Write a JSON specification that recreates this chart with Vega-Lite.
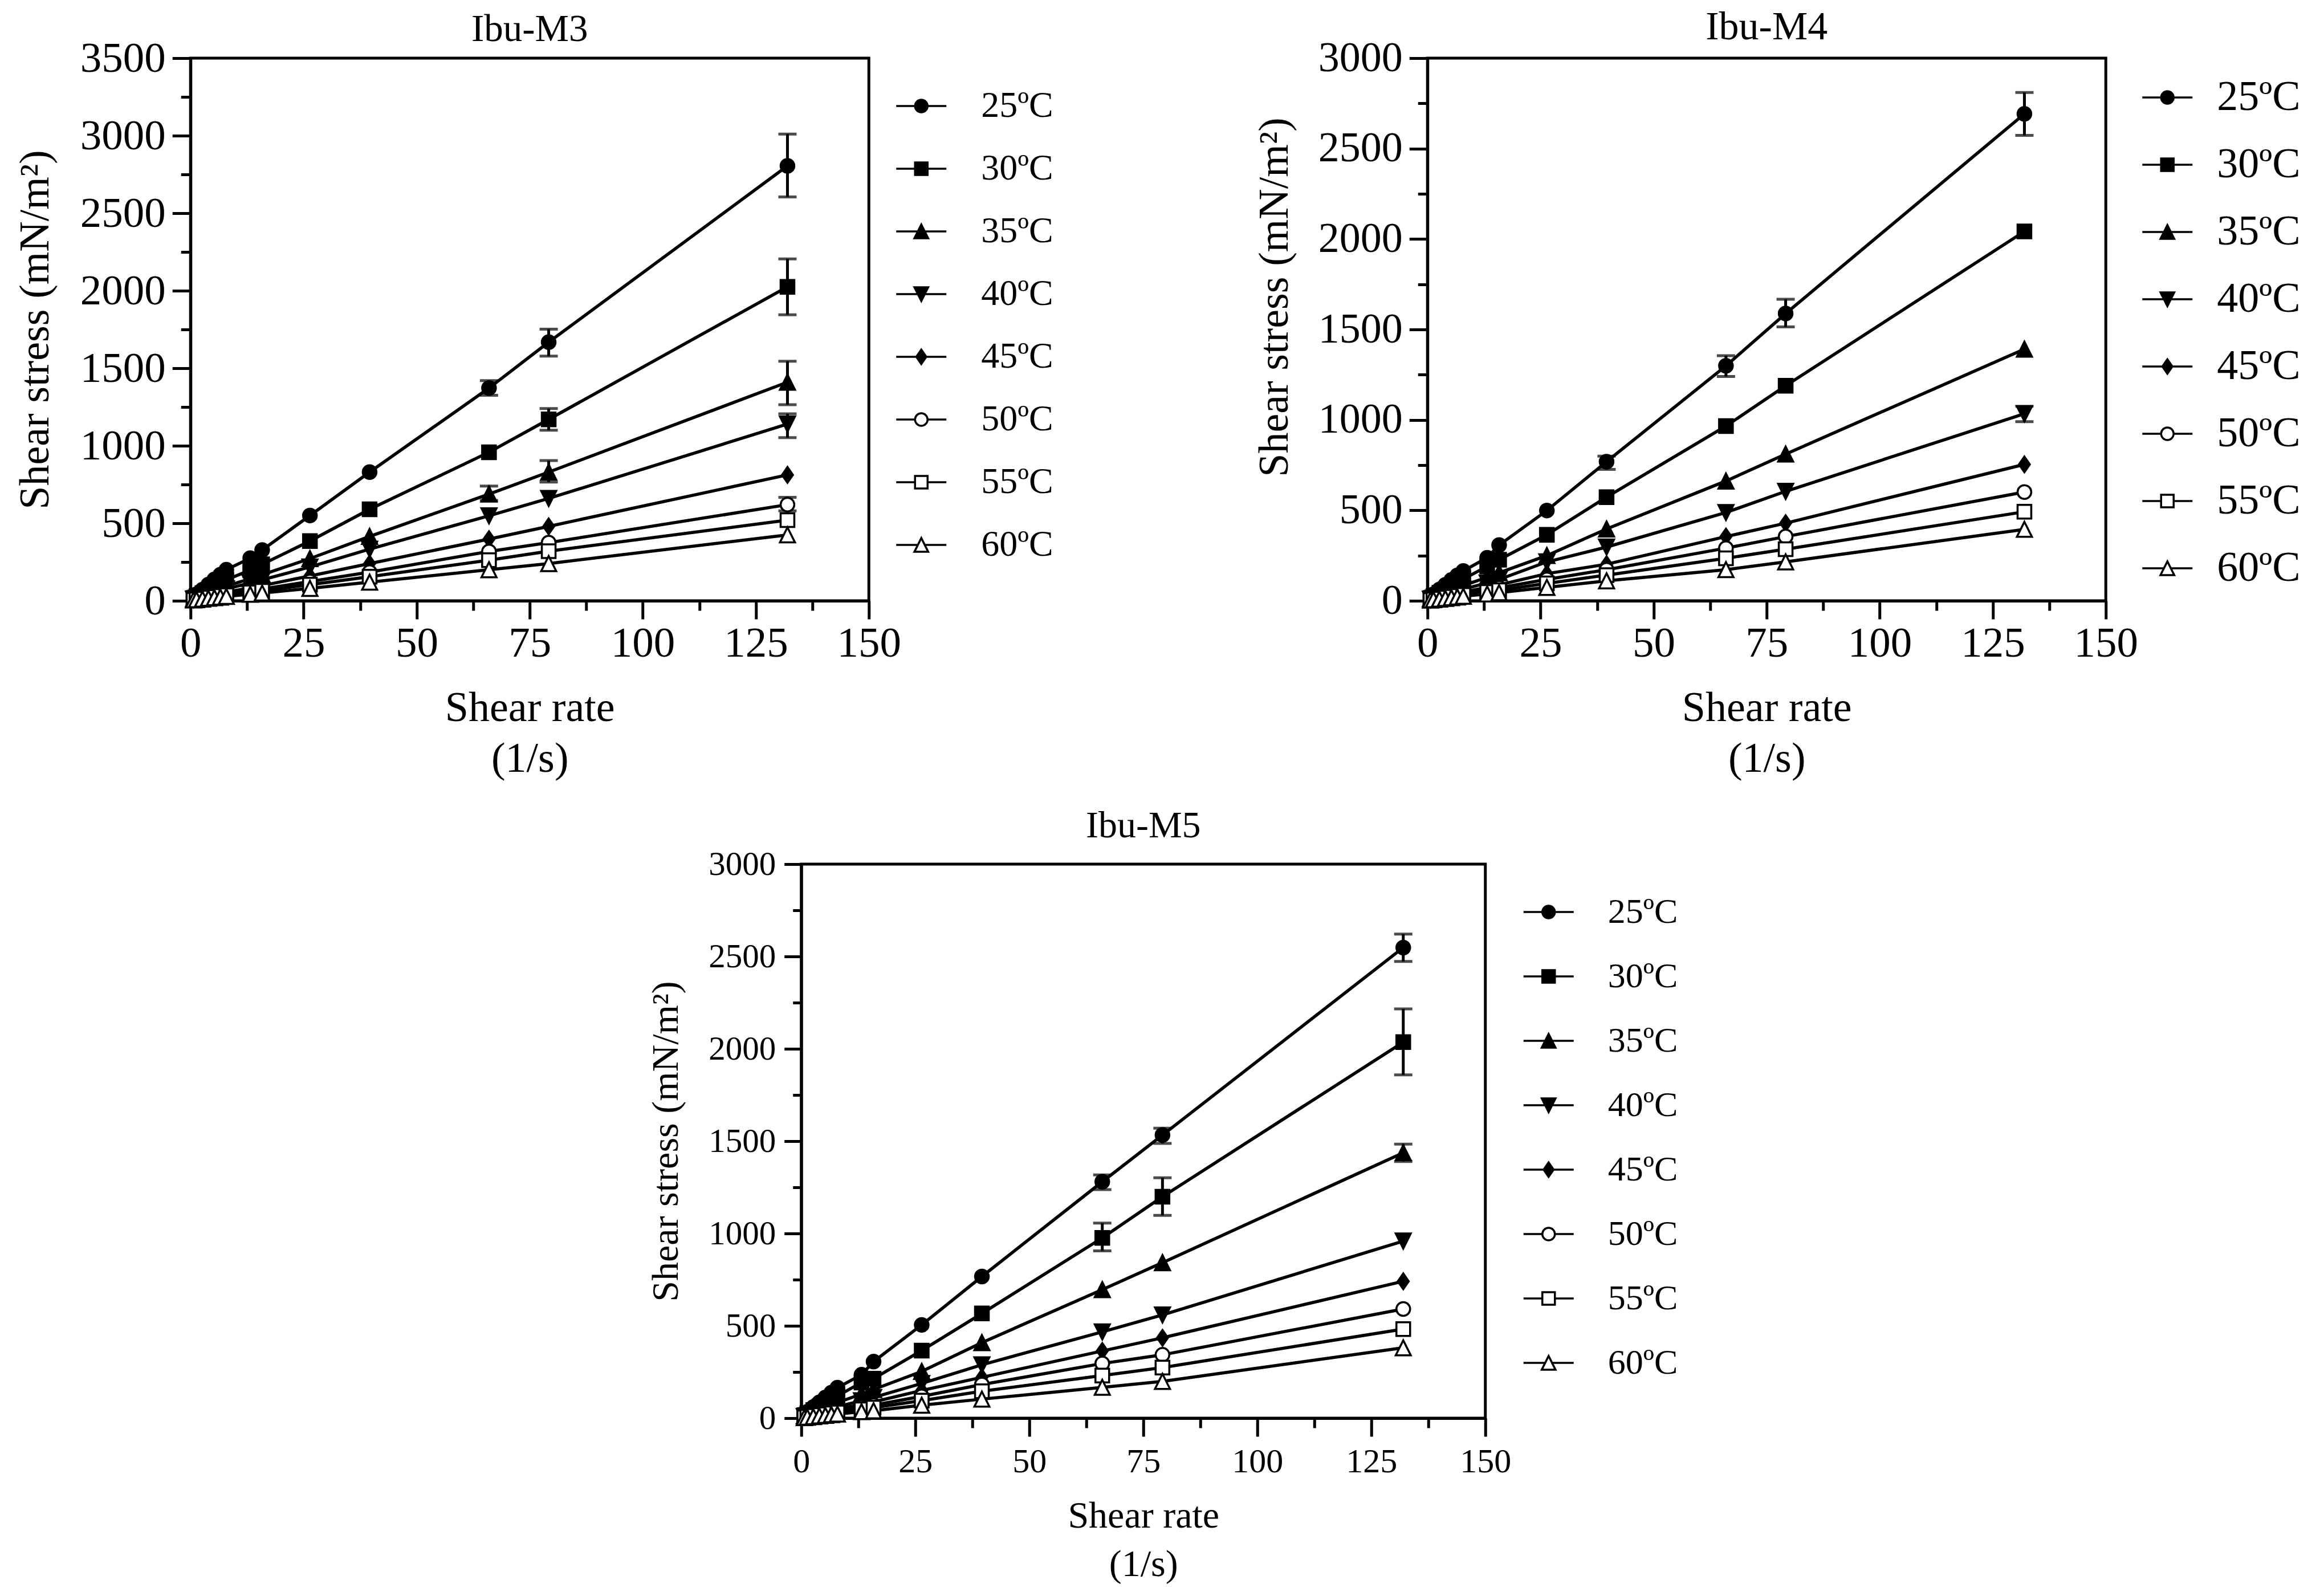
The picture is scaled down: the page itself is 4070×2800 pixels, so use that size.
{
  "$schema": "https://vega.github.io/schema/vega-lite/v6.json",
  "background": "white",
  "padding": {"left": 22, "top": 10, "right": 5, "bottom": 5},
  "center": true,
  "spacing": 42,
  "resolve": {"scale": {"shape": "independent", "fill": "independent"}, "legend": {"shape": "independent", "fill": "independent"}},
  "config": {
    "font": "Liberation Serif",
    "view": {"stroke": "black", "strokeWidth": 5},
    "axis": {
      "domainColor": "black", "domainWidth": 5, "tickColor": "black", "tickWidth": 5,
      "labelColor": "black", "titleColor": "black", "grid": false,
      "labelFlush": false, "labelOverlap": false, "labelBound": false,
      "titleFontWeight": "normal", "format": "d"
    },
    "legend": {"labelColor": "black", "labelLimit": 400, "symbolStrokeColor": "black", "symbolFillColor": "black", "symbolOpacity": 1, "symbolStrokeWidth": 3.5, "symbolSize": 484, "symbolOffset": 0, "title": null, "orient": "right"},
    "title": {"fontWeight": "normal", "color": "black", "anchor": "middle", "frame": "group"}
  },
  "datasets": {
    "m3": [
      {"t":"25ºC","x":0.66,"y":25},{"t":"25ºC","x":1.32,"y":42},{"t":"25ºC","x":2.64,"y":72},{"t":"25ºC","x":3.96,"y":105},{"t":"25ºC","x":5.28,"y":138},{"t":"25ºC","x":6.6,"y":168},{"t":"25ºC","x":7.92,"y":200},{"t":"25ºC","x":13.2,"y":275},{"t":"25ºC","x":15.84,"y":327},{"t":"25ºC","x":26.4,"y":550},{"t":"25ºC","x":39.6,"y":830},{"t":"25ºC","x":66,"y":1372,"lo":1325,"hi":1420},{"t":"25ºC","x":79.2,"y":1668,"lo":1578,"hi":1752},{"t":"25ºC","x":132,"y":2805,"lo":2605,"hi":3010},
      {"t":"30ºC","x":0.66,"y":18},{"t":"30ºC","x":1.32,"y":30},{"t":"30ºC","x":2.64,"y":50},{"t":"30ºC","x":3.96,"y":72},{"t":"30ºC","x":5.28,"y":93},{"t":"30ºC","x":6.6,"y":113},{"t":"30ºC","x":7.92,"y":135},{"t":"30ºC","x":13.2,"y":198},{"t":"30ºC","x":15.84,"y":235},{"t":"30ºC","x":26.4,"y":385},{"t":"30ºC","x":39.6,"y":590},{"t":"30ºC","x":66,"y":958},{"t":"30ºC","x":79.2,"y":1170,"lo":1100,"hi":1240},{"t":"30ºC","x":132,"y":2025,"lo":1845,"hi":2205},
      {"t":"35ºC","x":0.66,"y":13},{"t":"35ºC","x":1.32,"y":22},{"t":"35ºC","x":2.64,"y":37},{"t":"35ºC","x":3.96,"y":52},{"t":"35ºC","x":5.28,"y":66},{"t":"35ºC","x":6.6,"y":80},{"t":"35ºC","x":7.92,"y":95},{"t":"35ºC","x":13.2,"y":142},{"t":"35ºC","x":15.84,"y":168},{"t":"35ºC","x":26.4,"y":272},{"t":"35ºC","x":39.6,"y":415},{"t":"35ºC","x":66,"y":688,"lo":647,"hi":740},{"t":"35ºC","x":79.2,"y":830,"lo":766,"hi":904},{"t":"35ºC","x":132,"y":1410,"lo":1265,"hi":1545},
      {"t":"40ºC","x":0.66,"y":11},{"t":"40ºC","x":1.32,"y":18},{"t":"40ºC","x":2.64,"y":30},{"t":"40ºC","x":3.96,"y":42},{"t":"40ºC","x":5.28,"y":54},{"t":"40ºC","x":6.6,"y":65},{"t":"40ºC","x":7.92,"y":77},{"t":"40ºC","x":13.2,"y":115},{"t":"40ºC","x":15.84,"y":135},{"t":"40ºC","x":26.4,"y":218},{"t":"40ºC","x":39.6,"y":333},{"t":"40ºC","x":66,"y":548},{"t":"40ºC","x":79.2,"y":660},{"t":"40ºC","x":132,"y":1140,"lo":1052,"hi":1206},
      {"t":"45ºC","x":0.66,"y":9},{"t":"45ºC","x":1.32,"y":14},{"t":"45ºC","x":2.64,"y":22},{"t":"45ºC","x":3.96,"y":31},{"t":"45ºC","x":5.28,"y":39},{"t":"45ºC","x":6.6,"y":47},{"t":"45ºC","x":7.92,"y":56},{"t":"45ºC","x":13.2,"y":83},{"t":"45ºC","x":15.84,"y":98},{"t":"45ºC","x":26.4,"y":160},{"t":"45ºC","x":39.6,"y":240},{"t":"45ºC","x":66,"y":398},{"t":"45ºC","x":79.2,"y":480},{"t":"45ºC","x":132,"y":812},
      {"t":"50ºC","x":0.66,"y":7},{"t":"50ºC","x":1.32,"y":11},{"t":"50ºC","x":2.64,"y":17},{"t":"50ºC","x":3.96,"y":24},{"t":"50ºC","x":5.28,"y":30},{"t":"50ºC","x":6.6,"y":37},{"t":"50ºC","x":7.92,"y":43},{"t":"50ºC","x":13.2,"y":64},{"t":"50ºC","x":15.84,"y":76},{"t":"50ºC","x":26.4,"y":124},{"t":"50ºC","x":39.6,"y":185},{"t":"50ºC","x":66,"y":318},{"t":"50ºC","x":79.2,"y":375},{"t":"50ºC","x":132,"y":620,"lo":580,"hi":667},
      {"t":"55ºC","x":0.66,"y":6},{"t":"55ºC","x":1.32,"y":9},{"t":"55ºC","x":2.64,"y":14},{"t":"55ºC","x":3.96,"y":20},{"t":"55ºC","x":5.28,"y":25},{"t":"55ºC","x":6.6,"y":31},{"t":"55ºC","x":7.92,"y":36},{"t":"55ºC","x":13.2,"y":54},{"t":"55ºC","x":15.84,"y":64},{"t":"55ºC","x":26.4,"y":104},{"t":"55ºC","x":39.6,"y":155},{"t":"55ºC","x":66,"y":262},{"t":"55ºC","x":79.2,"y":320},{"t":"55ºC","x":132,"y":520},
      {"t":"60ºC","x":0.66,"y":5},{"t":"60ºC","x":1.32,"y":7},{"t":"60ºC","x":2.64,"y":11},{"t":"60ºC","x":3.96,"y":16},{"t":"60ºC","x":5.28,"y":20},{"t":"60ºC","x":6.6,"y":24},{"t":"60ºC","x":7.92,"y":28},{"t":"60ºC","x":13.2,"y":42},{"t":"60ºC","x":15.84,"y":50},{"t":"60ºC","x":26.4,"y":80},{"t":"60ºC","x":39.6,"y":120},{"t":"60ºC","x":66,"y":200},{"t":"60ºC","x":79.2,"y":240},{"t":"60ºC","x":132,"y":425}
    ],
    "m4": [
      {"t":"25ºC","x":0.66,"y":22},{"t":"25ºC","x":1.32,"y":36},{"t":"25ºC","x":2.64,"y":62},{"t":"25ºC","x":3.96,"y":88},{"t":"25ºC","x":5.28,"y":115},{"t":"25ºC","x":6.6,"y":140},{"t":"25ºC","x":7.92,"y":165},{"t":"25ºC","x":13.2,"y":238},{"t":"25ºC","x":15.84,"y":308},{"t":"25ºC","x":26.4,"y":499},{"t":"25ºC","x":39.6,"y":769,"lo":726,"hi":800},{"t":"25ºC","x":66,"y":1299,"lo":1240,"hi":1355},{"t":"25ºC","x":79.2,"y":1588,"lo":1514,"hi":1667},{"t":"25ºC","x":132,"y":2692,"lo":2573,"hi":2810},
      {"t":"30ºC","x":0.66,"y":16},{"t":"30ºC","x":1.32,"y":27},{"t":"30ºC","x":2.64,"y":44},{"t":"30ºC","x":3.96,"y":63},{"t":"30ºC","x":5.28,"y":82},{"t":"30ºC","x":6.6,"y":100},{"t":"30ºC","x":7.92,"y":120},{"t":"30ºC","x":13.2,"y":190},{"t":"30ºC","x":15.84,"y":227},{"t":"30ºC","x":26.4,"y":365},{"t":"30ºC","x":39.6,"y":573},{"t":"30ºC","x":66,"y":966},{"t":"30ºC","x":79.2,"y":1189},{"t":"30ºC","x":132,"y":2042},
      {"t":"35ºC","x":0.66,"y":12},{"t":"35ºC","x":1.32,"y":19},{"t":"35ºC","x":2.64,"y":32},{"t":"35ºC","x":3.96,"y":45},{"t":"35ºC","x":5.28,"y":58},{"t":"35ºC","x":6.6,"y":71},{"t":"35ºC","x":7.92,"y":84},{"t":"35ºC","x":13.2,"y":130},{"t":"35ºC","x":15.84,"y":155},{"t":"35ºC","x":26.4,"y":250},{"t":"35ºC","x":39.6,"y":397},{"t":"35ºC","x":66,"y":662},{"t":"35ºC","x":79.2,"y":811},{"t":"35ºC","x":132,"y":1391},
      {"t":"40ºC","x":0.66,"y":9},{"t":"40ºC","x":1.32,"y":15},{"t":"40ºC","x":2.64,"y":25},{"t":"40ºC","x":3.96,"y":35},{"t":"40ºC","x":5.28,"y":44},{"t":"40ºC","x":6.6,"y":54},{"t":"40ºC","x":7.92,"y":64},{"t":"40ºC","x":13.2,"y":99},{"t":"40ºC","x":15.84,"y":118},{"t":"40ºC","x":26.4,"y":215},{"t":"40ºC","x":39.6,"y":297},{"t":"40ºC","x":66,"y":488},{"t":"40ºC","x":79.2,"y":605},{"t":"40ºC","x":132,"y":1034,"lo":990,"hi":1075},
      {"t":"45ºC","x":0.66,"y":7},{"t":"45ºC","x":1.32,"y":11},{"t":"45ºC","x":2.64,"y":19},{"t":"45ºC","x":3.96,"y":26},{"t":"45ºC","x":5.28,"y":33},{"t":"45ºC","x":6.6,"y":40},{"t":"45ºC","x":7.92,"y":48},{"t":"45ºC","x":13.2,"y":74},{"t":"45ºC","x":15.84,"y":88},{"t":"45ºC","x":26.4,"y":150},{"t":"45ºC","x":39.6,"y":202},{"t":"45ºC","x":66,"y":355},{"t":"45ºC","x":79.2,"y":429},{"t":"45ºC","x":132,"y":754},
      {"t":"50ºC","x":0.66,"y":6},{"t":"50ºC","x":1.32,"y":9},{"t":"50ºC","x":2.64,"y":15},{"t":"50ºC","x":3.96,"y":21},{"t":"50ºC","x":5.28,"y":27},{"t":"50ºC","x":6.6,"y":33},{"t":"50ºC","x":7.92,"y":39},{"t":"50ºC","x":13.2,"y":60},{"t":"50ºC","x":15.84,"y":72},{"t":"50ºC","x":26.4,"y":118},{"t":"50ºC","x":39.6,"y":172},{"t":"50ºC","x":66,"y":291},{"t":"50ºC","x":79.2,"y":355},{"t":"50ºC","x":132,"y":601},
      {"t":"55ºC","x":0.66,"y":5},{"t":"55ºC","x":1.32,"y":8},{"t":"55ºC","x":2.64,"y":12},{"t":"55ºC","x":3.96,"y":17},{"t":"55ºC","x":5.28,"y":22},{"t":"55ºC","x":6.6,"y":27},{"t":"55ºC","x":7.92,"y":32},{"t":"55ºC","x":13.2,"y":49},{"t":"55ºC","x":15.84,"y":58},{"t":"55ºC","x":26.4,"y":96},{"t":"55ºC","x":39.6,"y":142},{"t":"55ºC","x":66,"y":235},{"t":"55ºC","x":79.2,"y":285},{"t":"55ºC","x":132,"y":492},
      {"t":"60ºC","x":0.66,"y":4},{"t":"60ºC","x":1.32,"y":6},{"t":"60ºC","x":2.64,"y":9},{"t":"60ºC","x":3.96,"y":13},{"t":"60ºC","x":5.28,"y":17},{"t":"60ºC","x":6.6,"y":21},{"t":"60ºC","x":7.92,"y":25},{"t":"60ºC","x":13.2,"y":38},{"t":"60ºC","x":15.84,"y":45},{"t":"60ºC","x":26.4,"y":74},{"t":"60ºC","x":39.6,"y":110},{"t":"60ºC","x":66,"y":172},{"t":"60ºC","x":79.2,"y":215},{"t":"60ºC","x":132,"y":395}
    ],
    "m5": [
      {"t":"25ºC","x":0.66,"y":21},{"t":"25ºC","x":1.32,"y":35},{"t":"25ºC","x":2.64,"y":60},{"t":"25ºC","x":3.96,"y":86},{"t":"25ºC","x":5.28,"y":112},{"t":"25ºC","x":6.6,"y":138},{"t":"25ºC","x":7.92,"y":165},{"t":"25ºC","x":13.2,"y":235},{"t":"25ºC","x":15.84,"y":306},{"t":"25ºC","x":26.4,"y":505},{"t":"25ºC","x":39.6,"y":767},{"t":"25ºC","x":66,"y":1280,"lo":1238,"hi":1317},{"t":"25ºC","x":79.2,"y":1533,"lo":1488,"hi":1570},{"t":"25ºC","x":132,"y":2548,"lo":2473,"hi":2621},
      {"t":"30ºC","x":0.66,"y":16},{"t":"30ºC","x":1.32,"y":27},{"t":"30ºC","x":2.64,"y":44},{"t":"30ºC","x":3.96,"y":63},{"t":"30ºC","x":5.28,"y":82},{"t":"30ºC","x":6.6,"y":100},{"t":"30ºC","x":7.92,"y":120},{"t":"30ºC","x":13.2,"y":193},{"t":"30ºC","x":15.84,"y":214},{"t":"30ºC","x":26.4,"y":366},{"t":"30ºC","x":39.6,"y":567},{"t":"30ºC","x":66,"y":976,"lo":906,"hi":1056},{"t":"30ºC","x":79.2,"y":1199,"lo":1098,"hi":1302},{"t":"30ºC","x":132,"y":2036,"lo":1859,"hi":2216},
      {"t":"35ºC","x":0.66,"y":12},{"t":"35ºC","x":1.32,"y":19},{"t":"35ºC","x":2.64,"y":32},{"t":"35ºC","x":3.96,"y":45},{"t":"35ºC","x":5.28,"y":58},{"t":"35ºC","x":6.6,"y":72},{"t":"35ºC","x":7.92,"y":85},{"t":"35ºC","x":13.2,"y":130},{"t":"35ºC","x":15.84,"y":155},{"t":"35ºC","x":26.4,"y":253},{"t":"35ºC","x":39.6,"y":409},{"t":"35ºC","x":66,"y":696},{"t":"35ºC","x":79.2,"y":842},{"t":"35ºC","x":132,"y":1437,"lo":1390,"hi":1484},
      {"t":"40ºC","x":0.66,"y":9},{"t":"40ºC","x":1.32,"y":14},{"t":"40ºC","x":2.64,"y":23},{"t":"40ºC","x":3.96,"y":33},{"t":"40ºC","x":5.28,"y":42},{"t":"40ºC","x":6.6,"y":52},{"t":"40ºC","x":7.92,"y":62},{"t":"40ºC","x":13.2,"y":94},{"t":"40ºC","x":15.84,"y":112},{"t":"40ºC","x":26.4,"y":188},{"t":"40ºC","x":39.6,"y":289},{"t":"40ºC","x":66,"y":467},{"t":"40ºC","x":79.2,"y":559},{"t":"40ºC","x":132,"y":959},
      {"t":"45ºC","x":0.66,"y":7},{"t":"45ºC","x":1.32,"y":11},{"t":"45ºC","x":2.64,"y":19},{"t":"45ºC","x":3.96,"y":26},{"t":"45ºC","x":5.28,"y":33},{"t":"45ºC","x":6.6,"y":40},{"t":"45ºC","x":7.92,"y":48},{"t":"45ºC","x":13.2,"y":74},{"t":"45ºC","x":15.84,"y":88},{"t":"45ºC","x":26.4,"y":150},{"t":"45ºC","x":39.6,"y":221},{"t":"45ºC","x":66,"y":364},{"t":"45ºC","x":79.2,"y":435},{"t":"45ºC","x":132,"y":741},
      {"t":"50ºC","x":0.66,"y":6},{"t":"50ºC","x":1.32,"y":9},{"t":"50ºC","x":2.64,"y":15},{"t":"50ºC","x":3.96,"y":21},{"t":"50ºC","x":5.28,"y":27},{"t":"50ºC","x":6.6,"y":33},{"t":"50ºC","x":7.92,"y":39},{"t":"50ºC","x":13.2,"y":59},{"t":"50ºC","x":15.84,"y":70},{"t":"50ºC","x":26.4,"y":118},{"t":"50ºC","x":39.6,"y":182},{"t":"50ºC","x":66,"y":296},{"t":"50ºC","x":79.2,"y":343},{"t":"50ºC","x":132,"y":591},
      {"t":"55ºC","x":0.66,"y":5},{"t":"55ºC","x":1.32,"y":8},{"t":"55ºC","x":2.64,"y":12},{"t":"55ºC","x":3.96,"y":17},{"t":"55ºC","x":5.28,"y":21},{"t":"55ºC","x":6.6,"y":26},{"t":"55ºC","x":7.92,"y":31},{"t":"55ºC","x":13.2,"y":48},{"t":"55ºC","x":15.84,"y":57},{"t":"55ºC","x":26.4,"y":95},{"t":"55ºC","x":39.6,"y":146},{"t":"55ºC","x":66,"y":231},{"t":"55ºC","x":79.2,"y":274},{"t":"55ºC","x":132,"y":482},
      {"t":"60ºC","x":0.66,"y":3},{"t":"60ºC","x":1.32,"y":5},{"t":"60ºC","x":2.64,"y":8},{"t":"60ºC","x":3.96,"y":12},{"t":"60ºC","x":5.28,"y":15},{"t":"60ºC","x":6.6,"y":19},{"t":"60ºC","x":7.92,"y":22},{"t":"60ºC","x":13.2,"y":35},{"t":"60ºC","x":15.84,"y":40},{"t":"60ºC","x":26.4,"y":70},{"t":"60ºC","x":39.6,"y":103},{"t":"60ºC","x":66,"y":167},{"t":"60ºC","x":79.2,"y":199},{"t":"60ºC","x":132,"y":381}
    ]
  },
  "vconcat": [
    {
      "resolve": {"scale": {"shape": "independent", "fill": "independent"}, "legend": {"shape": "independent", "fill": "independent"}},
      "hconcat": [
        {
          "title": {"text": "Ibu-M3", "fontSize": 67, "offset": -21},
          "width": 1190,
          "height": 952,
          "data": {"name": "m3"},
          "resolve": {"scale": {"shape": "independent", "fill": "independent"}, "legend": {"shape": "independent", "fill": "independent"}},
          "encoding": {
            "x": {"field": "x", "type": "quantitative", "scale": {"domain": [0, 150], "nice": false},
              "axis": {"title": ["Shear rate", "(1/s)"], "values": [0,12.5,25,37.5,50,62.5,75,87.5,100,112.5,125,137.5,150],
                "labelExpr": "datum.value % 25 === 0 ? datum.label : ''",
                "tickSize": {"condition": {"test": "datum.value % 25 === 0", "value": 32}, "value": 17},
                "labelFontSize": 75, "labelPadding": 6, "titleFontSize": 74, "titlePadding": 40, "titleLineHeight": 89}},
            "y": {"field": "y", "type": "quantitative", "scale": {"domain": [0, 3500], "nice": false},
              "axis": {"title": "Shear stress (mN/m²)", "values": [0,250,500,750,1000,1250,1500,1750,2000,2250,2500,2750,3000,3250,3500],
                "labelExpr": "datum.value % 500 === 0 ? datum.label : ''",
                "tickSize": {"condition": {"test": "datum.value % 500 === 0", "value": 32}, "value": 17},
                "labelFontSize": 75, "labelPadding": 12, "titleFontSize": 74, "titlePadding": 40}}
          },
          "layer": [
            {"mark": {"type": "line", "color": "black", "strokeWidth": 5.5}, "encoding": {"detail": {"field": "t"}}},
            {"transform": [{"filter": "isValid(datum.lo)"}],
             "mark": {"type": "errorbar", "color": "black", "ticks": {"size": 32, "thickness": 5}, "rule": {"strokeWidth": 5}},
             "encoding": {"y": {"field": "lo", "type": "quantitative", "title": "Shear stress (mN/m²)"}, "y2": {"field": "hi"}}},
            {"mark": {"type": "point", "filled": true, "size": 576, "stroke": "black", "strokeWidth": 3.5, "opacity": 1},
             "encoding": {
               "shape": {"field": "t", "type": "nominal", "legend": null,
                 "scale": {"domain": ["25ºC","30ºC","35ºC","40ºC","45ºC","50ºC","55ºC","60ºC"], "range": ["circle","square","M0,-1.1L1.1,1.1L-1.1,1.1Z","M0,1.1L1.1,-1.1L-1.1,-1.1Z","M0,-1.15L0.8,0L0,1.15L-0.8,0Z","circle","square","M0,-1.1L1.1,1.1L-1.1,1.1Z"]}},
               "fill": {"field": "t", "type": "nominal", "legend": null,
                 "scale": {"domain": ["25ºC","30ºC","35ºC","40ºC","45ºC","50ºC","55ºC","60ºC"], "range": ["black","black","black","black","black","white","white","white"]}}
             }},
            {"mark": {"type": "point", "filled": true, "size": 484, "stroke": "black", "strokeWidth": 3.5, "opacity": 0},
             "encoding": {
               "shape": {"field": "t", "type": "nominal",
                 "scale": {"domain": ["25ºC","30ºC","35ºC","40ºC","45ºC","50ºC","55ºC","60ºC"], "range": ["M-4,0H4M1,0A1,1,0,1,1,-1,0A1,1,0,1,1,1,0Z","M-4,0H4M-1,-1H1V1H-1Z","M-4,0H4M0,-1.1L1.1,1.1L-1.1,1.1Z","M-4,0H4M0,1.1L1.1,-1.1L-1.1,-1.1Z","M-4,0H4M0,-1.15L0.8,0L0,1.15L-0.8,0Z","M-4,0H-1M1,0H4M1,0A1,1,0,1,1,-1,0A1,1,0,1,1,1,0Z","M-4,0H-1M1,0H4M-1,-1H1V1H-1Z","M-4,0H-0.55M0.55,0H4M0,-1.1L1.1,1.1L-1.1,1.1Z"]},
                 "legend": {"offset": 8, "padding": 52, "rowPadding": 46, "labelFontSize": 64, "labelOffset": 73}},
               "fill": {"field": "t", "type": "nominal",
                 "scale": {"domain": ["25ºC","30ºC","35ºC","40ºC","45ºC","50ºC","55ºC","60ºC"], "range": ["black","black","black","black","black","white","white","white"]},
                 "legend": {"offset": 8, "padding": 52, "rowPadding": 46, "labelFontSize": 64, "labelOffset": 73}}
             }}
          ]
        },
        {
          "title": {"text": "Ibu-M4", "fontSize": 70, "offset": -19},
          "width": 1190,
          "height": 952,
          "data": {"name": "m4"},
          "resolve": {"scale": {"shape": "independent", "fill": "independent"}, "legend": {"shape": "independent", "fill": "independent"}},
          "encoding": {
            "x": {"field": "x", "type": "quantitative", "scale": {"domain": [0, 150], "nice": false},
              "axis": {"title": ["Shear rate", "(1/s)"], "values": [0,12.5,25,37.5,50,62.5,75,87.5,100,112.5,125,137.5,150],
                "labelExpr": "datum.value % 25 === 0 ? datum.label : ''",
                "tickSize": {"condition": {"test": "datum.value % 25 === 0", "value": 32}, "value": 17},
                "labelFontSize": 75, "labelPadding": 6, "titleFontSize": 74, "titlePadding": 40, "titleLineHeight": 89}},
            "y": {"field": "y", "type": "quantitative", "scale": {"domain": [0, 3000], "nice": false},
              "axis": {"title": "Shear stress (mN/m²)", "values": [0,250,500,750,1000,1250,1500,1750,2000,2250,2500,2750,3000],
                "labelExpr": "datum.value % 500 === 0 ? datum.label : ''",
                "tickSize": {"condition": {"test": "datum.value % 500 === 0", "value": 32}, "value": 17},
                "labelFontSize": 74, "labelPadding": 12, "titleFontSize": 74, "titlePadding": 38, "titleY": 419}}
          },
          "layer": [
            {"mark": {"type": "line", "color": "black", "strokeWidth": 5.5}, "encoding": {"detail": {"field": "t"}}},
            {"transform": [{"filter": "isValid(datum.lo)"}],
             "mark": {"type": "errorbar", "color": "black", "ticks": {"size": 32, "thickness": 5}, "rule": {"strokeWidth": 5}},
             "encoding": {"y": {"field": "lo", "type": "quantitative", "title": "Shear stress (mN/m²)"}, "y2": {"field": "hi"}}},
            {"mark": {"type": "point", "filled": true, "size": 576, "stroke": "black", "strokeWidth": 3.5, "opacity": 1},
             "encoding": {
               "shape": {"field": "t", "type": "nominal", "legend": null,
                 "scale": {"domain": ["25ºC","30ºC","35ºC","40ºC","45ºC","50ºC","55ºC","60ºC"], "range": ["circle","square","M0,-1.1L1.1,1.1L-1.1,1.1Z","M0,1.1L1.1,-1.1L-1.1,-1.1Z","M0,-1.15L0.8,0L0,1.15L-0.8,0Z","circle","square","M0,-1.1L1.1,1.1L-1.1,1.1Z"]}},
               "fill": {"field": "t", "type": "nominal", "legend": null,
                 "scale": {"domain": ["25ºC","30ºC","35ºC","40ºC","45ºC","50ºC","55ºC","60ºC"], "range": ["black","black","black","black","black","white","white","white"]}}
             }},
            {"mark": {"type": "point", "filled": true, "size": 484, "stroke": "black", "strokeWidth": 3.5, "opacity": 0},
             "encoding": {
               "shape": {"field": "t", "type": "nominal",
                 "scale": {"domain": ["25ºC","30ºC","35ºC","40ºC","45ºC","50ºC","55ºC","60ºC"], "range": ["M-4,0H4M1,0A1,1,0,1,1,-1,0A1,1,0,1,1,1,0Z","M-4,0H4M-1,-1H1V1H-1Z","M-4,0H4M0,-1.1L1.1,1.1L-1.1,1.1Z","M-4,0H4M0,1.1L1.1,-1.1L-1.1,-1.1Z","M-4,0H4M0,-1.15L0.8,0L0,1.15L-0.8,0Z","M-4,0H-1M1,0H4M1,0A1,1,0,1,1,-1,0A1,1,0,1,1,1,0Z","M-4,0H-1M1,0H4M-1,-1H1V1H-1Z","M-4,0H-0.55M0.55,0H4M0,-1.1L1.1,1.1L-1.1,1.1Z"]},
                 "legend": {"offset": 39, "padding": 32, "rowPadding": 44, "labelFontSize": 74, "labelOffset": 50}},
               "fill": {"field": "t", "type": "nominal",
                 "scale": {"domain": ["25ºC","30ºC","35ºC","40ºC","45ºC","50ºC","55ºC","60ºC"], "range": ["black","black","black","black","black","white","white","white"]},
                 "legend": {"offset": 39, "padding": 32, "rowPadding": 44, "labelFontSize": 74, "labelOffset": 50}}
             }}
          ]
        }
      ],
      "spacing": 293
    },
    {
      "title": {"text": "Ibu-M5", "fontSize": 66, "offset": 4},
      "width": 1200,
      "height": 972,
      "data": {"name": "m5"},
      "resolve": {"scale": {"shape": "independent", "fill": "independent"}, "legend": {"shape": "independent", "fill": "independent"}},
      "encoding": {
        "x": {"field": "x", "type": "quantitative", "scale": {"domain": [0, 150], "nice": false},
          "axis": {"title": ["Shear rate", "(1/s)"], "values": [0,12.5,25,37.5,50,62.5,75,87.5,100,112.5,125,137.5,150],
            "labelExpr": "datum.value % 25 === 0 ? datum.label : ''",
            "tickSize": {"condition": {"test": "datum.value % 25 === 0", "value": 32}, "value": 17},
            "labelFontSize": 60, "labelPadding": 15, "titleFontSize": 66, "titlePadding": 33, "titleLineHeight": 85}},
        "y": {"field": "y", "type": "quantitative", "scale": {"domain": [0, 3000], "nice": false},
          "axis": {"title": "Shear stress (mN/m²)", "values": [0,250,500,750,1000,1250,1500,1750,2000,2250,2500,2750,3000],
            "labelExpr": "datum.value % 500 === 0 ? datum.label : ''",
            "tickSize": {"condition": {"test": "datum.value % 500 === 0", "value": 30}, "value": 15},
            "labelFontSize": 59, "labelPadding": 15, "titleFontSize": 66, "titlePadding": 40}}
      },
      "layer": [
        {"mark": {"type": "line", "color": "black", "strokeWidth": 5.5}, "encoding": {"detail": {"field": "t"}}},
        {"transform": [{"filter": "isValid(datum.lo)"}],
         "mark": {"type": "errorbar", "color": "black", "ticks": {"size": 32, "thickness": 5}, "rule": {"strokeWidth": 5}},
         "encoding": {"y": {"field": "lo", "type": "quantitative", "title": "Shear stress (mN/m²)"}, "y2": {"field": "hi"}}},
        {"mark": {"type": "point", "filled": true, "size": 576, "stroke": "black", "strokeWidth": 3.5, "opacity": 1},
         "encoding": {
           "shape": {"field": "t", "type": "nominal", "legend": null,
             "scale": {"domain": ["25ºC","30ºC","35ºC","40ºC","45ºC","50ºC","55ºC","60ºC"], "range": ["circle","square","M0,-1.1L1.1,1.1L-1.1,1.1Z","M0,1.1L1.1,-1.1L-1.1,-1.1Z","M0,-1.15L0.8,0L0,1.15L-0.8,0Z","circle","square","M0,-1.1L1.1,1.1L-1.1,1.1Z"]}},
           "fill": {"field": "t", "type": "nominal", "legend": null,
             "scale": {"domain": ["25ºC","30ºC","35ºC","40ºC","45ºC","50ºC","55ºC","60ºC"], "range": ["black","black","black","black","black","white","white","white"]}}
         }},
        {"mark": {"type": "point", "filled": true, "size": 484, "stroke": "black", "strokeWidth": 3.5, "opacity": 0},
         "encoding": {
           "shape": {"field": "t", "type": "nominal",
             "scale": {"domain": ["25ºC","30ºC","35ºC","40ºC","45ºC","50ºC","55ºC","60ºC"], "range": ["M-4,0H4M1,0A1,1,0,1,1,-1,0A1,1,0,1,1,1,0Z","M-4,0H4M-1,-1H1V1H-1Z","M-4,0H4M0,-1.1L1.1,1.1L-1.1,1.1Z","M-4,0H4M0,1.1L1.1,-1.1L-1.1,-1.1Z","M-4,0H4M0,-1.15L0.8,0L0,1.15L-0.8,0Z","M-4,0H-1M1,0H4M1,0A1,1,0,1,1,-1,0A1,1,0,1,1,1,0Z","M-4,0H-1M1,0H4M-1,-1H1V1H-1Z","M-4,0H-0.55M0.55,0H4M0,-1.1L1.1,1.1L-1.1,1.1Z"]},
             "legend": {"offset": 27, "padding": 53, "rowPadding": 51, "labelFontSize": 62, "labelOffset": 73}},
           "fill": {"field": "t", "type": "nominal",
             "scale": {"domain": ["25ºC","30ºC","35ºC","40ºC","45ºC","50ºC","55ºC","60ºC"], "range": ["black","black","black","black","black","white","white","white"]},
             "legend": {"offset": 27, "padding": 53, "rowPadding": 51, "labelFontSize": 62, "labelOffset": 73}}
         }}
      ]
    }
  ]
}
